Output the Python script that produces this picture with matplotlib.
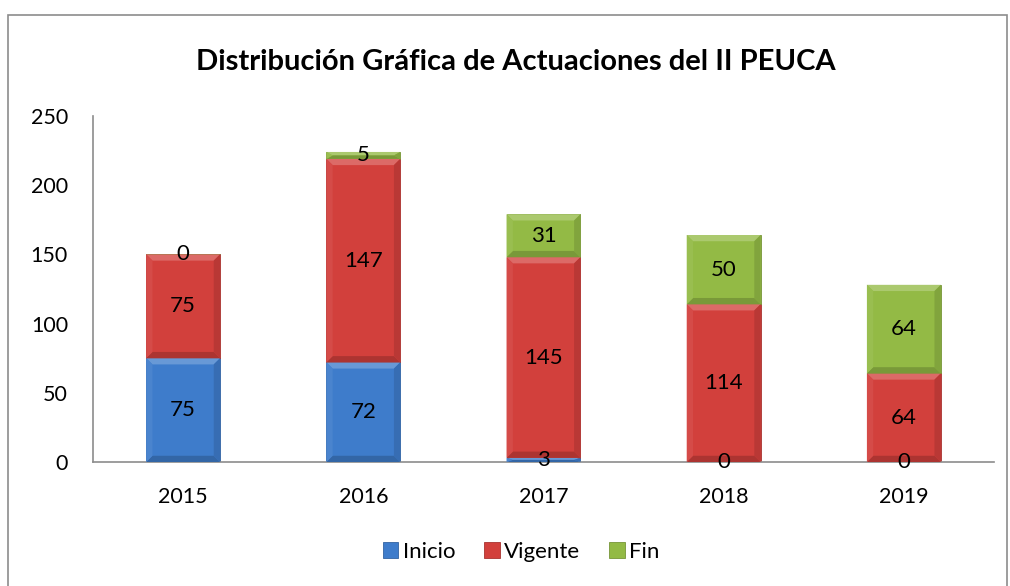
import matplotlib
matplotlib.use("Agg")
import matplotlib.pyplot as plt
import matplotlib.colors as mcolors
from matplotlib.patches import Polygon, Rectangle
import numpy as np

# data
years = ["2015", "2016", "2017", "2018", "2019"]
inicio = [75, 72, 3, 0, 0]
vigente = [75, 147, 145, 114, 64]
fin = [0, 5, 31, 50, 64]
series_names = ["Inicio", "Vigente", "Fin"]
colors = ["#3E7CCB", "#D2403C", "#93BA45"]

plt.rcParams["font.family"] = ["Lato", "DejaVu Sans"]

fig = plt.figure(figsize=(10.1, 5.86), dpi=100)
ax = fig.add_axes([0.0921, 0.2116, 0.892, 0.5905])

x = np.arange(len(years))
width = 0.41
fs = 15.5


def shade(c, f):
    r, g, b = mcolors.to_rgb(c)
    if f > 0:
        return (r + (1 - r) * f, g + (1 - g) * f, b + (1 - b) * f)
    return (r * (1 + f), g * (1 + f), b * (1 + f))


def bevel(ax, patch, color):
    # fake the Excel bevel: light top/left, dark bottom/right
    x0, y0 = patch.get_x(), patch.get_y()
    w, h = patch.get_width(), patch.get_height()
    if h <= 0:
        return
    bx = 0.035
    by = min(4.5, h / 2)
    x1, y1 = x0 + w, y0 + h
    pieces = [
        ([(x0, y1), (x1, y1), (x1 - bx, y1 - by), (x0 + bx, y1 - by)], shade(color, 0.22)),
        ([(x0, y0), (x1, y0), (x1 - bx, y0 + by), (x0 + bx, y0 + by)], shade(color, -0.18)),
        ([(x0, y0), (x0, y1), (x0 + bx, y1 - by), (x0 + bx, y0 + by)], shade(color, 0.06)),
        ([(x1, y0), (x1, y1), (x1 - bx, y1 - by), (x1 - bx, y0 + by)], shade(color, -0.12)),
    ]
    for pts, c in pieces:
        ax.add_patch(Polygon(pts, closed=True, facecolor=c, edgecolor="none", zorder=3))


bottom = np.zeros(len(years))
for name, vals, col in zip(series_names, [inicio, vigente, fin], colors):
    bars = ax.bar(x, vals, width, bottom=bottom, color=col, label=name,
                  edgecolor=shade(col, -0.2), linewidth=0.6, zorder=2)
    for b, v in zip(bars, vals):
        bevel(ax, b, col)
        ax.text(b.get_x() + b.get_width() / 2, b.get_y() + v / 2, str(v),
                ha="center", va="center", fontsize=16, color="black", zorder=5)
    bottom += np.array(vals)

ax.set_xlim(-0.5, 4.5)
ax.set_ylim(0, 250)
ax.set_yticks([0, 50, 100, 150, 200, 250])
ax.set_xticks(x)
ax.set_xticklabels(years)
ax.tick_params(length=0, labelsize=fs)
ax.tick_params(axis="y", pad=18)
ax.tick_params(axis="x", pad=18)
for s in ["top", "right"]:
    ax.spines[s].set_visible(False)
for s in ["left", "bottom"]:
    ax.spines[s].set_color("#8C8C8C")
    ax.spines[s].set_linewidth(1.2)

fig.text(0.511, 0.894, "Distribución Gráfica de Actuaciones del II PEUCA",
         ha="center", va="center", fontsize=21, fontweight="bold")

leg = fig.legend(loc="center", bbox_to_anchor=(0.516, 0.058), ncol=3, frameon=False,
                 fontsize=16, handlelength=0.7, handleheight=0.7,
                 handletextpad=0.2, columnspacing=1.3)

# outer chart frame
fig.patches.append(Rectangle((0.008, -0.05), 0.989, 0.025 + 0.05 + 0.95,
                             transform=fig.transFigure, fill=False,
                             edgecolor="#8C8C8C", linewidth=1.2))

fig.savefig("out.png", dpi=100)
